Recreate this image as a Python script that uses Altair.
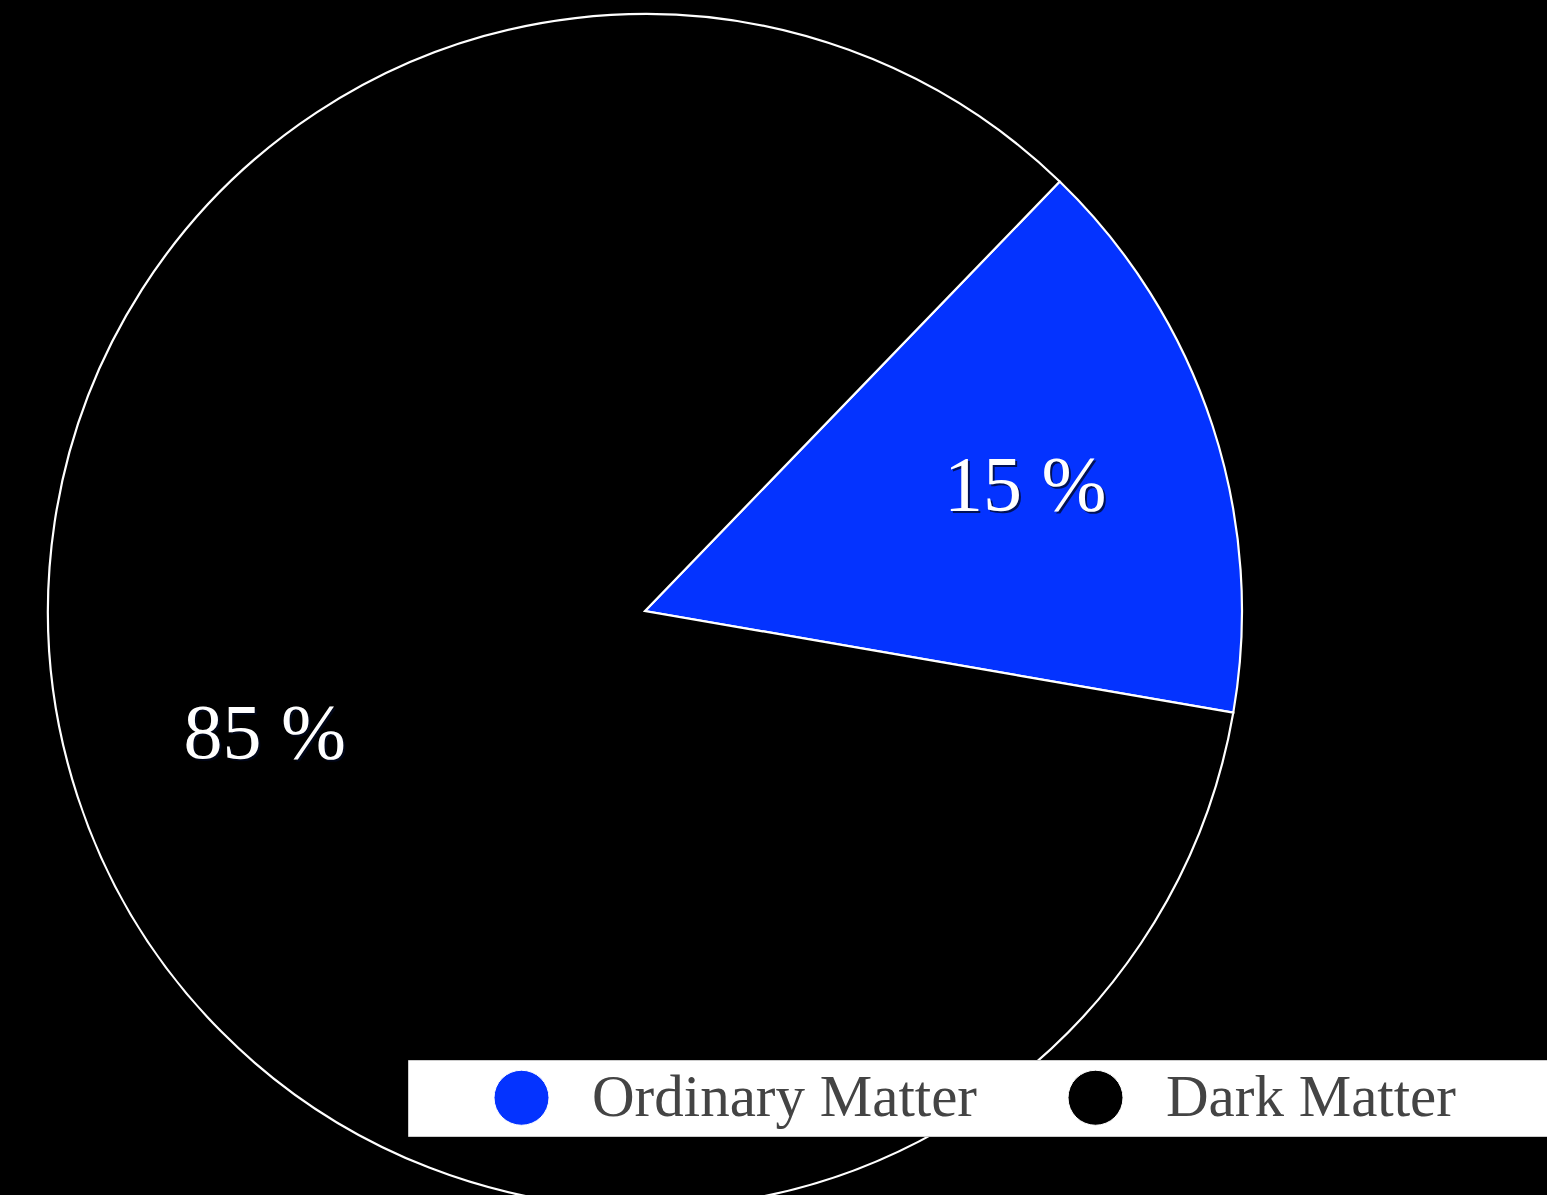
import math
import altair as alt
import pandas as pd

categories = ["Ordinary Matter", "Dark Matter"]
values = [15.5, 84.5]
labels = ["15 %", "85 %"]
colors = ["#0433ff", "#000000"]

df = pd.DataFrame({
    "category": categories,
    "value": values,
    "label": labels,
    "idx": list(range(len(categories))),
})

start = math.radians(44)
theta_scale = alt.Scale(range=[start, start + 2 * math.pi])
color_scale = alt.Scale(domain=categories, range=colors)

CX, CY, R = 645, 611, 597
FONT = "Liberation Serif"
PAD = "\u00a0" * 12 + "\u200b"

base = alt.Chart(df)

arcs = base.mark_arc(stroke="white", strokeWidth=2.2).encode(
    theta=alt.Theta("value:Q", stack=True, scale=theta_scale),
    color=alt.Color(
        "category:N",
        scale=color_scale,
        legend=alt.Legend(
            title=None,
            orient="none",
            legendX=408,
            legendY=1060,
            direction="horizontal",
            fillColor="white",
            strokeColor="#cccccc",
            padding=8,
            symbolType="circle",
            symbolSize=3025,
            symbolStrokeColor="white",
            symbolStrokeWidth=1,
            symbolOffset=76,
            labelFont=FONT,
            labelFontSize=59,
            labelColor="#444444",
            labelOffset=41,
            labelLimit=1000,
            columnPadding=13,
            labelExpr=f"datum.label == 'Dark Matter' ? datum.label + '{PAD}' : datum.label",
        ),
    ),
    order=alt.Order("idx:Q"),
    x=alt.value(CX),
    y=alt.value(CY),
    radius=alt.value(R),
)

shadow = base.mark_text(
    font=FONT, fontSize=78, color="#000820", opacity=0.75, dx=2, dy=2,
    baseline="middle", align="center",
).encode(
    theta=alt.Theta("value:Q", stack=True, scale=theta_scale),
    order=alt.Order("idx:Q"),
    text="label:N",
    x=alt.value(CX),
    y=alt.value(CY),
    radius=alt.value(400),
)

text = base.mark_text(
    font=FONT, fontSize=78, color="white", baseline="middle", align="center",
).encode(
    theta=alt.Theta("value:Q", stack=True, scale=theta_scale),
    order=alt.Order("idx:Q"),
    text="label:N",
    x=alt.value(CX),
    y=alt.value(CY),
    radius=alt.value(400),
)

chart = alt.layer(arcs, shadow, text).properties(
    width=1547,
    height=1195,
    autosize=alt.AutoSizeParams(type="none"),
    padding=0,
    background="black",
).configure_view(stroke=None)

chart.save("out.html", embed_options={"renderer": "svg", "actions": False})
